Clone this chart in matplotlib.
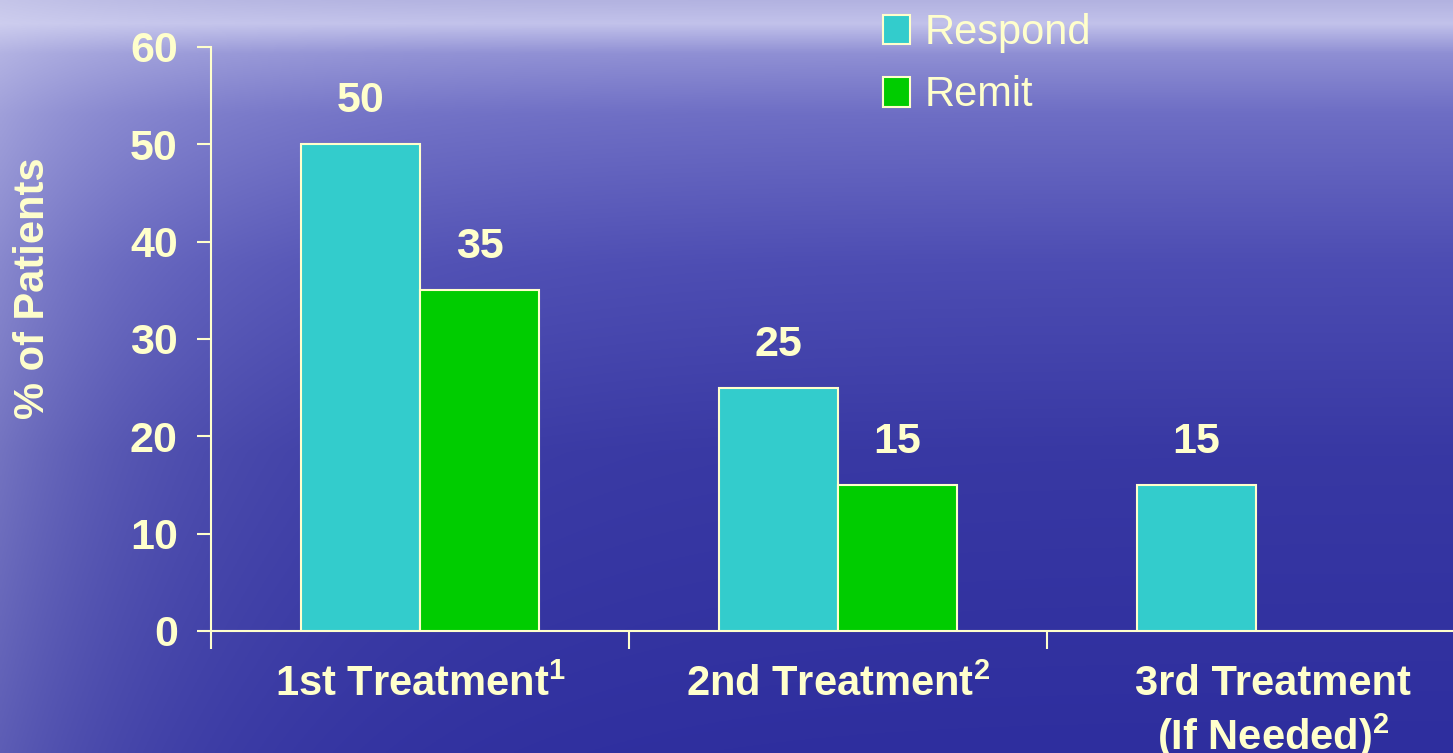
import numpy as np
import matplotlib
matplotlib.use('Agg')
import matplotlib.pyplot as plt
from matplotlib.transforms import ScaledTranslation

plt.rcParams['font.family'] = ['Liberation Sans', 'DejaVu Sans']
plt.rcParams['mathtext.fontset'] = 'custom'
plt.rcParams['mathtext.rm'] = 'Liberation Sans:bold'
plt.rcParams['mathtext.bf'] = 'Liberation Sans:bold'
plt.rcParams['mathtext.default'] = 'rm'

# data
categories = ['1st Treatment$^1$', '2nd Treatment$^2$', '3rd Treatment\n(If Needed)$^2$']
respond = [50, 25, 15]
remit = [35, 15, np.nan]
series_names = ['Respond', 'Remit']

txt_color = '#FFFFCC'
respond_color = '#33CCCC'
remit_color = '#00CC00'

fig = plt.figure(figsize=(14.53, 7.53), dpi=100)

# background: blue "water" gradient
h, w = 400, 760
yy, xx = np.mgrid[0:1:h * 1j, 0:1:w * 1j]
stops = [0.0, 0.03, 0.07, 0.15, 0.35, 0.6, 1.0]
r = [0.70, 0.76, 0.56, 0.43, 0.30, 0.22, 0.18]
g = [0.70, 0.76, 0.56, 0.43, 0.30, 0.22, 0.18]
b = [0.88, 0.92, 0.83, 0.77, 0.70, 0.64, 0.62]
base = np.dstack([np.interp(yy, stops, r), np.interp(yy, stops, g), np.interp(yy, stops, b)])
mix = (0.5 * np.exp(-xx / 0.13) * (1 - 0.45 * yy))[..., None]
lav = np.array([0.85, 0.85, 0.95])
bg = base * (1 - mix) + lav * mix
ax_bg = fig.add_axes([0, 0, 1, 1], zorder=-1)
ax_bg.imshow(bg, aspect='auto', extent=[0, 1, 0, 1])
ax_bg.axis('off')

ax = fig.add_axes([211 / 1453, 1 - 631 / 753, 1254 / 1453, 584 / 753])
ax.patch.set_alpha(0)

x = np.arange(len(categories))
bw = 0.285
bars1 = ax.bar(x - bw / 2, respond, bw, color=respond_color, edgecolor=txt_color,
               linewidth=1.5, label=series_names[0], zorder=3)
mask = ~np.isnan(remit)
bars2 = ax.bar(x[mask] + bw / 2, np.array(remit)[mask], bw, color=remit_color,
               edgecolor=txt_color, linewidth=1.5, label=series_names[1], zorder=3)

for bars in (bars1, bars2):
    for bar in bars:
        ax.annotate(f'{bar.get_height():.0f}',
                    (bar.get_x() + bar.get_width() / 2, bar.get_height()),
                    xytext=(0, 31), textcoords='offset points',
                    ha='center', va='center', fontsize=31, fontweight='bold',
                    color=txt_color)

ax.set_xlim(-0.5, len(categories) - 0.5)
ax.set_ylim(0, 60)
ax.set_yticks(range(0, 61, 10))
ax.tick_params(axis='y', colors=txt_color, labelsize=31, length=10, width=1.5, pad=14)
for lbl in ax.get_yticklabels():
    lbl.set_fontweight('bold')

ax.set_xticks(np.arange(-0.5, len(categories), 1.0))
ax.set_xticklabels([])
ax.tick_params(axis='x', which='major', colors=txt_color, length=13, width=1.5)
ax.set_xticks(x, minor=True)
ax.set_xticklabels(categories, minor=True, fontsize=30, fontweight='bold', color=txt_color)
ax.tick_params(axis='x', which='minor', length=0, pad=24)
lbls = ax.get_xticklabels(minor=True)
lbls[2].set_transform(lbls[2].get_transform() + ScaledTranslation(0.17, 0, fig.dpi_scale_trans))

for s in ('top', 'right'):
    ax.spines[s].set_visible(False)
for s in ('left', 'bottom'):
    ax.spines[s].set_color(txt_color)
    ax.spines[s].set_linewidth(1.5)

fig.text(33 / 1453, 1 - 288 / 753, '% of Patients', rotation=90, ha='center', va='center',
         fontsize=30, fontweight='bold', color=txt_color)

leg = fig.legend(handles=[bars1, bars2], labels=series_names, loc='upper left',
                 bbox_to_anchor=(883 / 1453, 1 - 13 / 753), frameon=False,
                 fontsize=30, handlelength=0.65, handleheight=0.7, handletextpad=0.36,
                 labelspacing=0.54, borderpad=0, borderaxespad=0)
for t in leg.get_texts():
    t.set_color(txt_color)

fig.savefig('out.png', dpi=100)
